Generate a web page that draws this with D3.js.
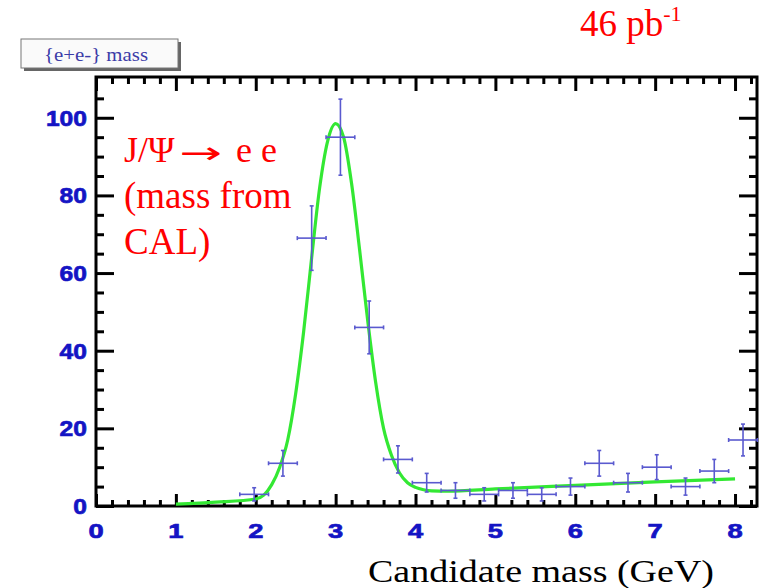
<!DOCTYPE html>
<html>
<head>
<meta charset="utf-8">
<script src="https://cdn.jsdelivr.net/npm/d3@7"></script>
<style>
  body { margin: 0; background: #fff; }
  svg { display: block; }
</style>
</head>
<body>
<div id="chart"></div>
<script>
// histogram of e+e- candidate mass
const binCenters = [1.98, 2.34, 2.70, 3.06, 3.42, 3.78, 4.14, 4.50, 4.86, 5.22, 5.58, 5.94, 6.30, 6.66, 7.02, 7.38, 7.74, 8.10];
const counts     = [3, 11, 69, 95, 46, 12, 6, 4, 3, 4, 3, 5, 11, 6, 10, 5, 9, 17];
const errors     = [1.7, 3.3, 8.3, 9.8, 6.8, 3.5, 2.4, 2.0, 1.7, 2.0, 1.7, 2.2, 3.3, 2.4, 3.2, 2.2, 3.0, 4.1];
const binWidth = 0.36;

// fitted curve (gaussian + background)
const fitX = [1.0, 1.5, 2.0, 2.1, 2.2, 2.3, 2.4, 2.5, 2.6, 2.7, 2.8, 2.9, 3.0, 3.1, 3.2, 3.3, 3.4, 3.5, 3.6, 3.7, 3.8, 3.9, 4.0, 4.1, 4.2, 4.4, 5.0, 6.0, 7.0, 8.0];
const fitY = [0.5, 1.0, 1.8, 2.8, 5.5, 10, 17, 29, 45, 64, 82, 94, 98.5, 95, 83, 66, 48, 32, 20, 13, 8.5, 6, 4.8, 4.2, 3.9, 3.8, 4.4, 5.3, 6.2, 7.0];

const xTicks = [0, 1, 2, 3, 4, 5, 6, 7, 8];
const yTicks = [0, 20, 40, 60, 80, 100];

const width = 766, height = 588;
const plot = { left: 96, right: 757, top: 77, bottom: 506 };

const svg = d3.select("#chart").append("svg")
    .attr("width", width)
    .attr("height", height);

const x = d3.scaleLinear().domain([0, 8.275]).range([plot.left, plot.right]);
const y = d3.scaleLinear().domain([0, 110.5]).range([plot.bottom, plot.top]);

const minorX = d3.range(0, 8.21, 0.2).filter(v => Math.abs(v - Math.round(v)) > 0.01);
const minorY = d3.range(0, 110, 5).filter(v => v % 20 !== 0);

// ticks (all pointing inward), no labels from the axis itself
function tickAxis(axisFn, scale, values, size, translate) {
    const g = svg.append("g")
        .attr("transform", translate)
        .call(axisFn(scale).tickValues(values).tickSize(-size).tickFormat(""));
    g.select(".domain").remove();
    g.selectAll("line").attr("stroke", "#000").attr("stroke-width", 3);
}
tickAxis(d3.axisBottom, x, xTicks, 12, `translate(0,${plot.bottom})`);
tickAxis(d3.axisBottom, x, minorX, 6, `translate(0,${plot.bottom})`);
tickAxis(d3.axisTop, x, xTicks, 14, `translate(0,${plot.top})`);
tickAxis(d3.axisTop, x, minorX, 7, `translate(0,${plot.top})`);
tickAxis(d3.axisLeft, y, yTicks, 18, `translate(${plot.left},0)`);
tickAxis(d3.axisLeft, y, minorY, 8, `translate(${plot.left},0)`);
tickAxis(d3.axisRight, y, yTicks, 18, `translate(${plot.right},0)`);
tickAxis(d3.axisRight, y, minorY, 8, `translate(${plot.right},0)`);

// frame
svg.append("rect")
    .attr("x", plot.left).attr("y", plot.top)
    .attr("width", plot.right - plot.left)
    .attr("height", plot.bottom - plot.top)
    .attr("fill", "none")
    .attr("stroke", "#000")
    .attr("stroke-width", 3);

// tick labels (wide bold blue like the original)
svg.append("g").selectAll("text")
    .data(xTicks)
    .join("text")
    .attr("transform", d => `translate(${x(d)},538) scale(1.3,1)`)
    .attr("text-anchor", "middle")
    .attr("font-family", "Liberation Sans, Arial, sans-serif")
    .attr("font-weight", "bold")
    .attr("font-size", 21)
    .attr("fill", "#1414c4")
    .attr("stroke", "#1414c4")
    .attr("stroke-width", 0.7)
    .text(d => d);

svg.append("g").selectAll("text")
    .data(yTicks)
    .join("text")
    .attr("transform", d => `translate(87,${y(d) + 8}) scale(1.12,1)`)
    .attr("text-anchor", "end")
    .attr("font-family", "Liberation Sans, Arial, sans-serif")
    .attr("font-weight", "bold")
    .attr("font-size", 22)
    .attr("fill", "#1414c4")
    .attr("stroke", "#1414c4")
    .attr("stroke-width", 0.7)
    .text(d => d);

// fit curve
const line = d3.line()
    .x((d, i) => x(fitX[i]))
    .y(d => y(d))
    .curve(d3.curveMonotoneX);

svg.append("path")
    .datum(fitY)
    .attr("d", line)
    .attr("fill", "none")
    .attr("stroke", "#33e833")
    .attr("stroke-width", 3.2);

// data points with error bars
const pts = svg.append("g")
    .attr("stroke", "#5a5acf")
    .attr("stroke-width", 1.6);

binCenters.forEach((c, i) => {
    const cx = x(c), cy = y(counts[i]);
    const x0 = x(c - binWidth / 2), x1 = x(c + binWidth / 2);
    const y0 = y(counts[i] - errors[i]), y1 = y(counts[i] + errors[i]);
    pts.append("line").attr("x1", x0).attr("x2", x1).attr("y1", cy).attr("y2", cy);
    pts.append("line").attr("x1", cx).attr("x2", cx).attr("y1", y0).attr("y2", y1);
    // small end caps
    pts.append("line").attr("x1", x0).attr("x2", x0).attr("y1", cy - 2).attr("y2", cy + 2);
    pts.append("line").attr("x1", x1).attr("x2", x1).attr("y1", cy - 2).attr("y2", cy + 2);
    pts.append("line").attr("x1", cx - 2).attr("x2", cx + 2).attr("y1", y0).attr("y2", y0);
    pts.append("line").attr("x1", cx - 2).attr("x2", cx + 2).attr("y1", y1).attr("y2", y1);
});

// histogram title box
svg.append("rect")
    .attr("x", 24).attr("y", 42).attr("width", 157).attr("height", 29)
    .attr("fill", "#666");
svg.append("rect")
    .attr("x", 21).attr("y", 39).attr("width", 157).attr("height", 29)
    .attr("fill", "#fafafa")
    .attr("stroke", "#777")
    .attr("stroke-width", 1);
svg.append("text")
    .attr("x", 96).attr("y", 61)
    .attr("text-anchor", "middle")
    .attr("font-family", "Liberation Serif, Times New Roman, serif")
    .attr("font-size", 19)
    .attr("textLength", 104)
    .attr("lengthAdjust", "spacingAndGlyphs")
    .attr("fill", "#3c3ca8")
    .text("{e+e-} mass");

// luminosity
const lumi = svg.append("text")
    .attr("x", 580).attr("y", 36)
    .attr("font-family", "Liberation Serif, Times New Roman, serif")
    .attr("font-size", 37)
    .attr("fill", "#f00");
lumi.append("tspan").text("46 pb");
lumi.append("tspan").attr("font-size", 22).attr("dy", -15).text("-1");

// annotation
const noteFont = "Liberation Serif, Times New Roman, serif";
svg.append("text")
    .attr("x", 124).attr("y", 162)
    .attr("font-family", noteFont)
    .attr("font-size", 36)
    .attr("fill", "#f00")
    .text("J/\u03A8");
svg.append("text")
    .attr("transform", "translate(179,163) scale(1.7,1)")
    .attr("font-family", "DejaVu Sans, sans-serif")
    .attr("font-size", 30)
    .attr("fill", "#f00")
    .text("\u2192");
svg.append("text")
    .attr("x", 236).attr("y", 162)
    .attr("font-family", noteFont)
    .attr("font-size", 36)
    .attr("fill", "#f00")
    .text("e e");

svg.append("g").selectAll("text")
    .data(["(mass from", "CAL)"])
    .join("text")
    .attr("x", 124)
    .attr("y", (d, i) => 208 + i * 46)
    .attr("font-family", noteFont)
    .attr("font-size", 37)
    .attr("fill", "#f00")
    .text(d => d);

// x axis title
svg.append("text")
    .attr("x", 368).attr("y", 582)
    .attr("font-family", "Liberation Serif, Times New Roman, serif")
    .attr("font-size", 32)
    .attr("textLength", 346)
    .attr("lengthAdjust", "spacingAndGlyphs")
    .attr("fill", "#000")
    .text("Candidate mass (GeV)");
</script>
</body>
</html>
